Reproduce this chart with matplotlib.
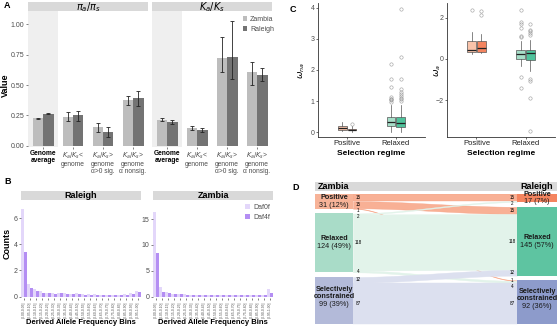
import numpy as np
import matplotlib.pyplot as plt
from matplotlib.patches import Rectangle

plt.rcParams["font.family"] = ["Liberation Sans", "DejaVu Sans"]

W, H = 558, 327

# ---------------- panel A data ----------------
a_labels = ["Genome\naverage", "$K_a/K_s$<\ngenome", "$K_a/K_s$>\ngenome\nα>0 sig.",
            "$K_a/K_s$>\ngenome\nα nonsig."]
pi_zambia = [0.225, 0.24, 0.155, 0.375]
pi_zambia_lo = [0.218, 0.20, 0.115, 0.335]
pi_zambia_hi = [0.232, 0.28, 0.19, 0.41]
pi_raleigh = [0.265, 0.25, 0.11, 0.39]
pi_raleigh_lo = [0.258, 0.205, 0.07, 0.33]
pi_raleigh_hi = [0.272, 0.29, 0.15, 0.45]
k_zambia = [0.215, 0.145, 0.725, 0.61]
k_zambia_lo = [0.205, 0.13, 0.61, 0.50]
k_zambia_hi = [0.225, 0.16, 0.90, 0.69]
k_raleigh = [0.195, 0.13, 0.73, 0.58]
k_raleigh_lo = [0.18, 0.115, 0.55, 0.53]
k_raleigh_hi = [0.21, 0.145, 1.03, 0.64]

# ---------------- panel B data ----------------
bins = ["(0.00-0.05]", "(0.05-0.10]", "(0.10-0.15]", "(0.15-0.20]", "(0.20-0.25]",
        "(0.25-0.30]", "(0.30-0.35]", "(0.35-0.40]", "(0.40-0.45]", "(0.45-0.50]",
        "(0.50-0.55]", "(0.55-0.60]", "(0.60-0.65]", "(0.65-0.70]", "(0.70-0.75]",
        "(0.75-0.80]", "(0.80-0.85]", "(0.85-0.90]", "(0.90-0.95]", "(0.95-1.00]"]
raleigh_daf0f = [6.67, 1.0, 0.62, 0.4, 0.3, 0.3, 0.3, 0.25, 0.22, 0.25,
                 0.2, 0.18, 0.18, 0.15, 0.15, 0.15, 0.15, 0.18, 0.25, 0.4]
raleigh_daf4f = [3.4, 0.65, 0.45, 0.3, 0.25, 0.22, 0.28, 0.18, 0.2, 0.18,
                 0.15, 0.15, 0.12, 0.15, 0.12, 0.12, 0.12, 0.15, 0.2, 0.35]
zambia_daf0f = [16.3, 1.9, 0.9, 0.6, 0.5, 0.45, 0.4, 0.4, 0.38, 0.35,
                0.35, 0.32, 0.3, 0.3, 0.3, 0.3, 0.3, 0.32, 0.4, 1.5]
zambia_daf4f = [8.5, 1.0, 0.7, 0.5, 0.45, 0.4, 0.38, 0.35, 0.32, 0.3,
                0.3, 0.28, 0.28, 0.25, 0.25, 0.25, 0.25, 0.28, 0.35, 0.8]

# ---------------- panel C data ----------------
regimes = ["Positive", "Relaxed"]
wna_zambia = [
    dict(med=0.14, q1=0.08, q3=0.20, whislo=0.02, whishi=0.33, fliers=[]),
    dict(med=0.33, q1=0.19, q3=0.48, whislo=0.01, whishi=0.87,
         fliers=[0.98, 1.02, 1.05, 1.08, 1.12, 1.44, 1.72, 2.2]),
]
wna_raleigh = [
    dict(med=0.07, q1=0.05, q3=0.10, whislo=0.01, whishi=0.20, fliers=[0.27]),
    dict(med=0.28, q1=0.15, q3=0.47, whislo=0.0, whishi=0.87,
         fliers=[1.0, 1.05, 1.1, 1.16, 1.22, 1.3, 1.38, 1.7, 2.41, 3.96]),
]
wa_zambia = [
    dict(med=0.45, q1=0.32, q3=0.85, whislo=0.26, whishi=1.3, fliers=[2.39]),
    dict(med=0.24, q1=0.02, q3=0.42, whislo=-0.35, whishi=0.85,
         fliers=[-1.4, -0.87, 1.06, 1.1, 1.5, 1.69, 1.77, 2.39]),
]
wa_raleigh = [
    dict(med=0.53, q1=0.32, q3=0.85, whislo=0.30, whishi=1.22, fliers=[2.15, 2.3]),
    dict(med=0.29, q1=-0.03, q3=0.42, whislo=-0.6, whishi=0.94,
         fliers=[-3.5, -1.89, -1.08, -0.95, 1.18, 1.26, 1.34, 1.42, 1.71]),
]

# ---------------- panel D data ----------------
d_cats = ["Positive", "Relaxed", "Selectively\nconstrained"]
zambia_counts = [31, 124, 99]
raleigh_counts = [17, 145, 92]
# (Zambia category, Raleigh category, genes)
transitions = [(0, 0, 15), (0, 1, 15), (0, 2, 1), (1, 0, 2), (1, 1, 118),
               (1, 2, 4), (2, 1, 12), (2, 2, 87)]

STRIP = "#D9D9D9"
TICK = "#4D4D4D"


def box(x0, y0, x1, y1):
    return [x0 / W, 1 - y1 / H, (x1 - x0) / W, (y1 - y0) / H]


def ftext(x, y, s, **kw):
    fig.text(x / W, 1 - y / H, s, **kw)


def strip(x0, y0, x1, y1, text=None, size=6.5):
    fig.add_artist(Rectangle((x0 / W, 1 - y1 / H), (x1 - x0) / W, (y1 - y0) / H,
                             transform=fig.transFigure, color=STRIP, lw=0, zorder=0))
    if text:
        ftext((x0 + x1) / 2, (y0 + y1) / 2 + 0.5, text, ha="center", va="center",
              fontsize=size, fontweight="bold")


def clean(ax):
    for s in ax.spines.values():
        s.set_visible(False)
    ax.tick_params(length=1.5, width=0.5, color=TICK, labelcolor=TICK, labelsize=5, pad=1)


fig = plt.figure(figsize=(W / 100, H / 100), dpi=100)

# ================= A =================
ftext(4, 5, "A", fontsize=6.5, fontweight="bold", va="center")
panels_a = [
    (28, r"$\pi_a/\pi_s$", pi_zambia, pi_zambia_lo, pi_zambia_hi, pi_raleigh, pi_raleigh_lo, pi_raleigh_hi),
    (152, r"$K_a/K_s$", k_zambia, k_zambia_lo, k_zambia_hi, k_raleigh, k_raleigh_lo, k_raleigh_hi),
]
x = np.arange(1, 5)
for i, (x0, title, zm, zlo, zhi, rm, rlo, rhi) in enumerate(panels_a):
    strip(x0, 2, x0 + 120, 10.5, title, size=7)
    ax = fig.add_axes(box(x0, 11, x0 + 120, 147))
    ax.axvspan(0.5, 1.5, color="#EFEFEF", lw=0, zorder=0)
    ax.bar(x - 0.175, zm, 0.35, color="#BDBDBD", zorder=2, label="Zambia")
    ax.bar(x + 0.175, rm, 0.35, color="#737373", zorder=2, label="Raleigh")
    ax.errorbar(x - 0.175, zm, yerr=[np.subtract(zm, zlo), np.subtract(zhi, zm)], fmt="none",
                ecolor="#222222", elinewidth=0.6, capsize=1.6, capthick=0.6, zorder=3)
    ax.errorbar(x + 0.175, rm, yerr=[np.subtract(rm, rlo), np.subtract(rhi, rm)], fmt="none",
                ecolor="#222222", elinewidth=0.6, capsize=1.6, capthick=0.6, zorder=3)
    ax.set_xlim(0.5, 4.5)
    ax.set_ylim(-0.011, 1.111)
    clean(ax)
    ax.set_xticks(x)
    ax.set_xticklabels(a_labels, fontsize=4.8, linespacing=1.0, va="top")
    ax.get_xticklabels()[0].set_fontweight("bold")
    ax.get_xticklabels()[0].set_color("black")
    if i == 0:
        ax.set_yticks([0, 0.25, 0.5, 0.75, 1.0])
        ax.set_yticklabels(["0.00", "0.25", "0.50", "0.75", "1.00"])
    else:
        ax.set_yticks([])
        ax.legend(loc="upper left", bbox_to_anchor=(0.755, 0.965), frameon=False, fontsize=5,
                  handlelength=0.7, handleheight=0.7, handletextpad=0.4, borderpad=0,
                  borderaxespad=0, labelspacing=0.45, labelcolor=TICK)
ftext(5, 85, "Value", rotation=90, fontsize=6.5, fontweight="bold", ha="center", va="center")

# ================= B =================
ftext(4, 181, "B", fontsize=6.5, fontweight="bold", va="center")
xb = np.arange(1, 21)
panels_b = [(21, 200, "Raleigh", raleigh_daf0f, raleigh_daf4f, (-0.1, 7.38), [0, 2, 4, 6]),
            (153, 201, "Zambia", zambia_daf0f, zambia_daf4f, (-0.25, 18.5), [0, 5, 10, 15])]
for i, (x0, top, title, d0, d4, ylim, yt) in enumerate(panels_b):
    strip(x0, 191, x0 + 120, 200, title)
    ax = fig.add_axes(box(x0, top, x0 + 120, 298))
    ax.bar(xb - 0.23, d0, 0.46, color="#E3D7FA", label="Daf0f")
    ax.bar(xb + 0.23, d4, 0.46, color="#B48EF3", label="Daf4f")
    ax.set_xlim(0.5, 20.5)
    ax.set_ylim(*ylim)
    clean(ax)
    ax.set_yticks(yt)
    ax.set_xticks(xb)
    ax.set_xticklabels(bins, rotation=90, fontsize=2.4)
    ftext(x0 + 60, 322, "Derived Allele Frequency Bins", fontsize=5.5, fontweight="bold",
          ha="center", va="center")
    if i == 1:
        ax.legend(loc="upper left", bbox_to_anchor=(0.77, 0.97), frameon=False, fontsize=5,
                  handlelength=0.7, handleheight=0.7, handletextpad=0.4, borderpad=0,
                  borderaxespad=0, labelspacing=0.45, labelcolor=TICK)
ftext(7, 243, "Counts", rotation=90, fontsize=6.5, fontweight="bold", ha="center", va="center")

# ================= C =================
ftext(290, 9, "C", fontsize=6.5, fontweight="bold", va="center")
panels_c = [(318, 425, wna_zambia, wna_raleigh, (-0.161, 4.161), [0, 1, 2, 3, 4],
             r"$\omega_{na}$", 302),
            (447, 555, wa_zambia, wa_raleigh, (-3.774, 2.709), [-2, 0, 2], r"$\omega_a$", 438)]
light = ["#F9C3AA", "#A6DEC8"]
dark = ["#F4845F", "#4FC39C"]
for x0, x1, zs, rs, ylim, yt, lab, lx in panels_c:
    ax = fig.add_axes(box(x0, 3, x1, 137))
    common = dict(widths=0.18, patch_artist=True, showcaps=False,
                  boxprops=dict(linewidth=0.5, edgecolor="#555555"),
                  whiskerprops=dict(linewidth=0.5, color="#555555"),
                  medianprops=dict(linewidth=0.9, color="#222222"),
                  flierprops=dict(marker="o", markersize=2.4, markerfacecolor="none",
                                  markeredgecolor="#9A9A9A", markeredgewidth=0.4))
    b1 = ax.bxp(zs, positions=[0.9, 1.9], **common)
    b2 = ax.bxp(rs, positions=[1.1, 2.1], **common)
    for j, p in enumerate(b1["boxes"]):
        p.set_facecolor(light[j])
    for j, p in enumerate(b2["boxes"]):
        p.set_facecolor(dark[j])
    ax.set_xlim(0.4, 2.6)
    ax.set_ylim(*ylim)
    for s in ["top", "right"]:
        ax.spines[s].set_visible(False)
    for s in ["left", "bottom"]:
        ax.spines[s].set_linewidth(0.6)
        ax.spines[s].set_color("#333333")
    ax.tick_params(length=1.5, width=0.5, color="#333333", labelcolor=TICK, labelsize=5, pad=1)
    ax.set_yticks(yt)
    ax.set_xticks([1, 2])
    ax.set_xticklabels(regimes, fontsize=5.5, color="#222222")
    ftext((x0 + x1) / 2, 153, "Selection regime", fontsize=6, fontweight="bold",
          ha="center", va="center")
    ftext(lx, 70, lab, rotation=90, fontsize=6.5, ha="center", va="center")

# ================= D =================
ftext(292, 188, "D", fontsize=6.5, fontweight="bold", va="center")
strip(315, 182, 557, 191)
ftext(334, 186.5, "Zambia", fontsize=6.5, fontweight="bold", ha="center", va="center")
ftext(537, 186.5, "Raleigh", fontsize=6.5, fontweight="bold", ha="center", va="center")

G = 10
total = sum(zambia_counts) + 2 * G
axd = fig.add_axes(box(315, 194, 557, 324))
axd.set_xlim(0, 242)
axd.set_ylim(total, 0)
axd.axis("off")

z_start = np.concatenate([[0], np.cumsum(zambia_counts)[:-1]]) + np.arange(3) * G
r_start = np.concatenate([[0], np.cumsum(raleigh_counts)[:-1]]) + np.arange(3) * G

flow_col = ["#F7A283", "#E2F3EA", "#DCE0EF"]
flow_alpha = [0.85, 1, 1]
lx0, lx1 = 38, 202
xs = np.linspace(lx0, lx1, 120)
t = (xs - lx0) / (lx1 - lx0)
s = t * t * (3 - 2 * t)

left_lab, right_lab = [], []
# left side: stacked by source, then destination
left_pos = {}
for src in range(3):
    y = z_start[src]
    for (a, b, n) in transitions:
        if a == src:
            left_pos[(a, b)] = y
            left_lab.append((y + n / 2, n))
            y += n
# right side: stacked by destination, then source
right_pos = {}
for dst in range(3):
    y = r_start[dst]
    for (a, b, n) in transitions:
        if b == dst:
            right_pos[(a, b)] = y
            right_lab.append((y + n / 2, n))
            y += n

for (a, b, n) in transitions:
    y0, y1 = left_pos[(a, b)], right_pos[(a, b)]
    top = y0 + (y1 - y0) * s
    axd.fill_between(xs, top, top + n, color=flow_col[a], alpha=flow_alpha[a], lw=0.3,
                     edgecolor=flow_col[a], zorder=1)

z_col = ["#F7B398", "#A9DCC8", "#B3BAD9"]
r_col = ["#F4845F", "#5EC4A1", "#8D9BCB"]
tot = sum(zambia_counts)
for k in range(3):
    for x0, w, st, cnt, col in [(0, 38, z_start[k], zambia_counts[k], z_col[k]),
                                (202, 40, r_start[k], raleigh_counts[k], r_col[k])]:
        axd.add_patch(Rectangle((x0, st), w, cnt, color=col, lw=0, zorder=2))
        yc = st + cnt / 2
        axd.annotate(d_cats[k], (x0 + w / 2, yc), xytext=(0, 0.3), textcoords="offset points",
                     ha="center", va="bottom", fontsize=5.2, fontweight="bold",
                     linespacing=0.95, color="#1A1A1A", zorder=3)
        axd.annotate(f"{cnt} ({cnt / tot:.0%})", (x0 + w / 2, yc), xytext=(0, -0.3),
                     textcoords="offset points", ha="center", va="top", fontsize=5.2,
                     color="#1A1A1A", zorder=3)


def place(labels, xpos):
    prev = -100
    for y, n in labels:
        y = max(y, prev + 12)
        axd.text(xpos, y, str(n), fontsize=3.3, ha="center", va="center", zorder=3)
        prev = y


place(left_lab, 43)
place(right_lab, 197)

fig.savefig("out.png", dpi=100)
